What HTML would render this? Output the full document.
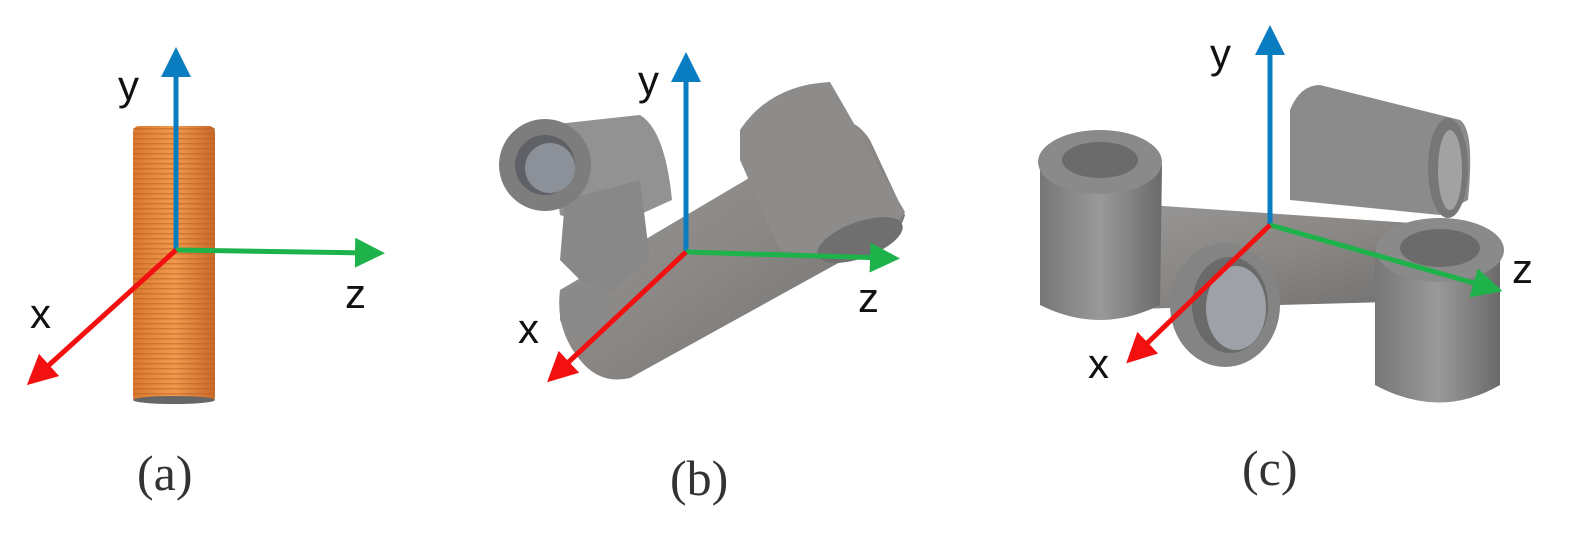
<!DOCTYPE html>
<html><head><meta charset="utf-8"><style>
html,body{margin:0;padding:0;background:#fff;}
svg{display:block;}
text{font-family:"Liberation Sans",sans-serif;}
.cap{font-family:"Liberation Serif",serif;font-size:50px;fill:#333;}
.lab{font-size:42px;fill:#111;}
</style></head><body>
<svg width="1586" height="549" viewBox="0 0 1586 549">
<defs>
<linearGradient id="org" x1="0" x2="1"><stop offset="0" stop-color="#d9782e"/><stop offset="0.5" stop-color="#f19a4e"/><stop offset="1" stop-color="#c9692a"/></linearGradient>
<pattern id="stripes" width="8" height="5" patternUnits="userSpaceOnUse"><rect width="8" height="5" fill="none"/><rect y="3" width="8" height="1.5" fill="#b85e22" opacity="0.5"/></pattern>
<linearGradient id="gry" x1="0" x2="1" y1="0" y2="1"><stop offset="0" stop-color="#9a9a9a"/><stop offset="0.5" stop-color="#8a8784"/><stop offset="1" stop-color="#6e6e6e"/></linearGradient>
<linearGradient id="gry2" x1="0" x2="1"><stop offset="0" stop-color="#777"/><stop offset="0.5" stop-color="#999"/><stop offset="1" stop-color="#6a6a6a"/></linearGradient>
<marker id="ab" markerWidth="6" markerHeight="6" refX="3" refY="3" orient="auto" markerUnits="strokeWidth"><path d="M0,0 L6,3 L0,6 z" fill="#0a7cc0"/></marker>
<marker id="ag" markerWidth="6" markerHeight="6" refX="3" refY="3" orient="auto" markerUnits="strokeWidth"><path d="M0,0 L6,3 L0,6 z" fill="#1db34a"/></marker>
<marker id="ar" markerWidth="6" markerHeight="6" refX="3" refY="3" orient="auto" markerUnits="strokeWidth"><path d="M0,0 L6,3 L0,6 z" fill="#f21010"/></marker>
</defs>

<!-- Panel a -->
<g>
<rect x="133" y="126" width="82" height="276" rx="6" fill="url(#org)"/>
<rect x="133" y="126" width="82" height="276" fill="url(#stripes)"/>
<ellipse cx="174" cy="400" rx="41" ry="4" fill="#666"/>
<line x1="176" y1="250" x2="176" y2="62" stroke="#0a7cc0" stroke-width="5" marker-end="url(#ab)"/>
<line x1="176" y1="250" x2="370" y2="253" stroke="#1db34a" stroke-width="5" marker-end="url(#ag)"/>
<line x1="176" y1="250" x2="38" y2="375" stroke="#f21010" stroke-width="5" marker-end="url(#ar)"/>
<text class="lab" x="118" y="100">y</text>
<text class="lab" x="345" y="308">z</text>
<text class="lab" x="30" y="328">x</text>
<text class="cap" x="137" y="490">(a)</text>
</g>

<!-- Panel b -->
<g>
<g>
<path d="M560,290 L830,130 Q850,110 870,140 L905,215 Q900,235 880,240 L630,378 Q600,385 580,360 Q555,330 560,290 z" fill="url(#gry)"/>
<path d="M740,130 Q770,85 830,82 L905,212 Q880,250 830,258 L780,250 L740,160 z" fill="#8e8c8a"/>
<ellipse cx="860" cy="240" rx="45" ry="18" transform="rotate(-20 860 240)" fill="#6f6f6f"/>
<path d="M548,125 L640,115 Q665,130 672,200 L605,230 L560,215 z" fill="#929292"/>
<path d="M565,200 L640,180 L650,260 L600,300 L560,260 z" fill="#888"/>
<circle cx="545" cy="165" r="46" fill="#7d7d7d"/>
<circle cx="545" cy="165" r="30" fill="#5f6166"/>
<circle cx="550" cy="168" r="25" fill="#8c9199"/>
<path d="M560,290 Q600,275 610,300 L600,340 Q570,345 560,320 z" fill="#8a8a8a"/>
</g>
<line x1="686" y1="252" x2="686" y2="67" stroke="#0a7cc0" stroke-width="5" marker-end="url(#ab)"/>
<line x1="686" y1="252" x2="885" y2="258" stroke="#1db34a" stroke-width="5" marker-end="url(#ag)"/>
<line x1="686" y1="252" x2="558" y2="372" stroke="#f21010" stroke-width="5" marker-end="url(#ar)"/>
<text class="lab" x="638" y="95">y</text>
<text class="lab" x="858" y="312">z</text>
<text class="lab" x="518" y="343">x</text>
<text class="cap" x="670" y="495">(b)</text>
</g>

<!-- Panel c -->
<g>
<g>
<path d="M1290,110 Q1300,85 1320,85 L1460,120 Q1475,130 1468,200 L1440,215 L1290,200 z" fill="#8b8b8b"/>
<ellipse cx="1448" cy="168" rx="20" ry="50" fill="#777"/>
<ellipse cx="1450" cy="170" rx="12" ry="40" fill="#a2a2a2"/>
<path d="M1075,200 L1440,225 L1460,300 L1100,310 z" fill="url(#gry)"/>
<path d="M1040,160 L1040,305 Q1100,335 1160,305 L1162,165 z" fill="url(#gry2)"/>
<ellipse cx="1100" cy="162" rx="62" ry="32" fill="#8a8a8a"/>
<ellipse cx="1100" cy="160" rx="38" ry="18" fill="#6b6b6b"/>
<path d="M1375,250 L1375,385 Q1440,420 1500,385 L1500,255 z" fill="url(#gry2)"/>
<ellipse cx="1440" cy="250" rx="64" ry="32" fill="#8a8a8a"/>
<ellipse cx="1440" cy="248" rx="40" ry="19" fill="#6b6b6b"/>
<ellipse cx="1225" cy="305" rx="55" ry="62" fill="#848484"/>
<ellipse cx="1230" cy="305" rx="38" ry="48" fill="#6a6a6a"/>
<ellipse cx="1236" cy="308" rx="30" ry="42" fill="#9ea2a8"/>
</g>
<line x1="1270" y1="225" x2="1270" y2="40" stroke="#0a7cc0" stroke-width="5" marker-end="url(#ab)"/>
<line x1="1270" y1="225" x2="1488" y2="287" stroke="#1db34a" stroke-width="5" marker-end="url(#ag)"/>
<line x1="1270" y1="225" x2="1137" y2="353" stroke="#f21010" stroke-width="5" marker-end="url(#ar)"/>
<text class="lab" x="1210" y="68">y</text>
<text class="lab" x="1512" y="283">z</text>
<text class="lab" x="1088" y="378">x</text>
<text class="cap" x="1242" y="485">(c)</text>
</g>
</svg>
</body></html>
